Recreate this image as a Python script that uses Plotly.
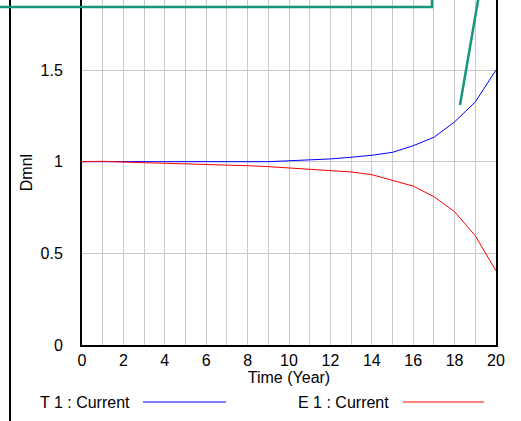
import plotly.graph_objects as go

years = list(range(0, 21))
t1_current = [1.0, 1.0, 1.0, 1.0, 1.0, 1.0, 1.0, 1.0, 1.0, 1.0, 1.005, 1.009, 1.015,
              1.024, 1.035, 1.051, 1.087, 1.133, 1.217, 1.326, 1.5]
e1_current = [1.0, 1.002, 0.998, 0.995, 0.993, 0.988, 0.986, 0.985, 0.978, 0.973, 0.966,
              0.958, 0.955, 0.944, 0.929, 0.90, 0.867, 0.809, 0.727, 0.596, 0.404]
x_ticks = [0, 2, 4, 6, 8, 10, 12, 14, 16, 18, 20]
y_ticks = [0, 0.5, 1, 1.5]
y_tick_labels = ["0", "0.5", "1", "1.5"]

W, H = 521, 421
L, R, T, B = 82, 496, 0, 345  # plot area pixels


def px(x):
    return (x - L) / (R - L)


def py(y):
    return (B - y) / (B - T)


font = dict(family="Liberation Sans, Arial, sans-serif", size=16, color="black")

fig = go.Figure()
fig.add_trace(go.Scatter(x=years, y=t1_current, mode="lines",
                         line=dict(color="#0000ff", width=1), name="T 1 : Current"))
fig.add_trace(go.Scatter(x=years, y=e1_current, mode="lines",
                         line=dict(color="#ff0000", width=1), name="E 1 : Current"))

fig.update_layout(
    width=W, height=H,
    margin=dict(l=L, r=W - R, t=T, b=H - B, autoexpand=False),
    paper_bgcolor="white", plot_bgcolor="white",
    showlegend=False,
    font=font,
    xaxis=dict(range=[0, 20], tickvals=x_ticks, ticktext=[str(v) for v in x_ticks],
               showgrid=True, gridcolor="#c8c8c8", gridwidth=1,
               minor=dict(dtick=1, showgrid=True, gridcolor="#c8c8c8", gridwidth=1),
               showline=True, linecolor="black", linewidth=2, zeroline=False,
               ticks="", tickfont=font, automargin=False,
               title=dict(text="Time (Year)", font=font, standoff=0)),
    yaxis=dict(range=[0, 1.882], tickvals=y_ticks, ticktext=y_tick_labels,
               showgrid=True, gridcolor="#c8c8c8", gridwidth=1,
               showline=True, linecolor="black", linewidth=2, mirror=True,
               zeroline=False, ticks="", tickfont=font, ticklabelstandoff=14,
               automargin=False,
               title=dict(text="Dmnl", font=font, standoff=4)),
)

shapes = []
# outer frame line at left
shapes.append(dict(type="line", xref="paper", yref="paper",
                   x0=px(10), x1=px(10), y0=py(430), y1=py(-10),
                   line=dict(color="black", width=2)))
# teal box (annotation frame, mostly off-canvas)
shapes.append(dict(type="rect", xref="paper", yref="paper",
                   x0=px(-20), x1=px(432), y0=py(7), y1=py(-40),
                   line=dict(color="#16967a", width=2.5), fillcolor="rgba(0,0,0,0)"))
# teal arrow line
shapes.append(dict(type="line", xref="paper", yref="paper",
                   x0=px(460), y0=py(105), x1=px(479), y1=py(-5),
                   line=dict(color="#16967a", width=2.5)))
# legend lines
shapes.append(dict(type="line", xref="paper", yref="paper",
                   x0=px(143), x1=px(226), y0=py(402), y1=py(402),
                   line=dict(color="#0000ff", width=1)))
shapes.append(dict(type="line", xref="paper", yref="paper",
                   x0=px(403), x1=px(484), y0=py(402), y1=py(402),
                   line=dict(color="#ff0000", width=1)))
fig.update_layout(shapes=shapes)

fig.add_annotation(text="T 1 : Current", xref="paper", yref="paper",
                   x=px(38), y=py(402), xanchor="left", yanchor="middle",
                   showarrow=False, font=font)
fig.add_annotation(text="E 1 : Current", xref="paper", yref="paper",
                   x=px(296), y=py(402), xanchor="left", yanchor="middle",
                   showarrow=False, font=font)

fig.write_html("out.html", config={"displayModeBar": False},
               post_script="document.body.style.margin='0px';document.body.style.padding='0px';")
